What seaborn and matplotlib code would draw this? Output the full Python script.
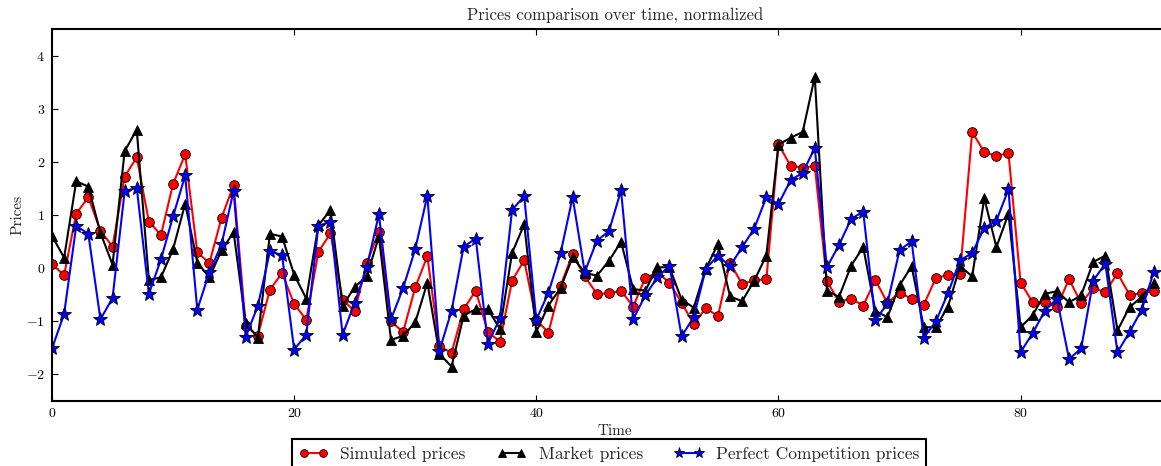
import numpy as np
import pandas as pd
import matplotlib
matplotlib.use("Agg")
import matplotlib.pyplot as plt
import seaborn as sns

# values, t = 0..91
simulated = [0.07, -0.14, 1.02, 1.33, 0.70, 0.40, 1.72, 2.08, 0.87, 0.62,
             1.58, 2.14, 0.29, 0.09, 0.94, 1.56, -1.09, -1.28, -0.41, -0.10,
             -0.68, -0.98, 0.30, 0.65, -0.60, -0.82, 0.09, 0.68, -1.01, -1.21,
             -0.37, 0.22, -1.48, -1.60, -0.78, -0.43, -1.21, -1.39, -0.24, 0.14,
             -0.98, -1.22, -0.34, 0.26, -0.16, -0.49, -0.48, -0.43, -0.73, -0.19,
             -0.09, -0.28, -0.66, -1.06, -0.76, -0.91, 0.10, -0.31, -0.23, -0.22,
             2.33, 1.92, 1.89, 1.92, -0.25, -0.64, -0.58, -0.71, -0.23, -0.66,
             -0.47, -0.58, -0.70, -0.19, -0.14, -0.11, 2.56, 2.18, 2.11, 2.16,
             -0.28, -0.65, -0.65, -0.74, -0.21, -0.67, -0.38, -0.46, -0.10, -0.51,
             -0.48, -0.44]
market = [0.60, 0.19, 1.63, 1.53, 0.66, 0.06, 2.20, 2.60, -0.23, -0.18,
          0.35, 1.21, 0.10, -0.18, 0.33, 0.67, -1.04, -1.32, 0.64, 0.59,
          -0.13, -0.58, 0.80, 1.09, -0.72, -0.36, -0.16, 0.59, -1.36, -1.28,
          -1.03, -0.28, -1.62, -1.86, -0.90, -0.78, -0.78, -1.15, 0.28, 0.82,
          -1.20, -0.71, -0.38, 0.20, -0.09, -0.15, 0.13, 0.49, -0.40, -0.43,
          0.01, 0.01, -0.60, -0.75, -0.02, 0.45, -0.54, -0.63, -0.24, 0.23,
          2.32, 2.45, 2.56, 3.60, -0.43, -0.55, 0.04, 0.39, -0.81, -0.93,
          -0.33, 0.03, -1.12, -1.12, -0.73, 0.03, -0.16, 1.31, 0.39, 1.02,
          -1.12, -0.89, -0.49, -0.44, -0.65, -0.52, 0.11, 0.23, -1.18, -0.74,
          -0.55, -0.28]
perfect = [-1.52, -0.87, 0.79, 0.64, -0.97, -0.57, 1.44, 1.51, -0.49, 0.16,
           0.97, 1.74, -0.79, -0.08, 0.44, 1.45, -1.30, -0.72, 0.31, 0.24,
           -1.54, -1.26, 0.79, 0.87, -1.26, -0.66, 0.01, 1.01, -0.97, -0.38,
           0.35, 1.36, -1.56, -0.81, 0.40, 0.55, -1.43, -0.95, 1.09, 1.35,
           -0.98, -0.47, 0.27, 1.33, -0.08, 0.51, 0.69, 1.46, -0.97, -0.52,
           -0.18, 0.04, -1.29, -0.93, -0.02, 0.23, 0.03, 0.39, 0.74, 1.33,
           1.20, 1.65, 1.79, 2.26, 0.01, 0.43, 0.92, 1.06, -0.99, -0.67,
           0.33, 0.50, -1.32, -1.01, -0.48, 0.14, 0.28, 0.75, 0.89, 1.48,
           -1.59, -1.23, -0.81, -0.58, -1.72, -1.52, -0.24, 0.08, -1.59, -1.21,
           -0.79, -0.08]
time = np.arange(len(simulated))

series_names = ["Simulated prices", "Market prices", "Perfect Competition prices"]

sns.set_style("ticks")
plt.rcParams["font.family"] = ["cmr10", "DejaVu Serif"]
plt.rcParams["mathtext.fontset"] = "cm"
plt.rcParams["axes.formatter.use_mathtext"] = True
plt.rcParams["axes.unicode_minus"] = True

fig = plt.figure(figsize=(11.61, 4.66), dpi=100)
# right spine sits just past the picture edge, as in the cropped original
ax = fig.add_axes([52 / 1161, 1 - 400.5 / 466, 1126 / 1161, 371.5 / 466])

styles = [
    (simulated, "red", "o", 7),
    (market, "black", "^", 7),
    (perfect, "blue", "*", 10),
]
for (vals, col, mk, ms), name in zip(styles, series_names):
    sns.lineplot(x=time, y=vals, ax=ax, color=col, marker=mk, markersize=ms,
                 markeredgecolor="black", markeredgewidth=0.6, linewidth=1.5,
                 label=name)

ax.set_xlim(0, 93)
ax.set_ylim(-2.5, 4.5)
ax.set_xticks([0, 20, 40, 60, 80])
ax.set_yticks([-2, -1, 0, 1, 2, 3, 4])
ax.tick_params(direction="in", length=4, width=0.8, top=True, right=True,
               labelsize=10, colors="black", pad=5)
for sp in ax.spines.values():
    sp.set_linewidth(1.5)
    sp.set_color("black")

ax.set_title("Prices comparison over time, normalized", fontsize=12, pad=6)
ax.set_xlabel("Time", fontsize=11, labelpad=3)
ax.set_ylabel("Prices", fontsize=11, labelpad=1)

leg = ax.legend(loc="upper center", bbox_to_anchor=(0.5 * 1114 / 1126, -0.104), ncol=3,
                numpoints=2, fontsize=12.5, fancybox=False, framealpha=1,
                borderaxespad=0, handlelength=1.7, columnspacing=1.8,
                markerscale=0.8, handletextpad=0.7)
leg.get_frame().set_edgecolor("black")
leg.get_frame().set_linewidth(1.5)

fig.savefig("out.png", dpi=100)
